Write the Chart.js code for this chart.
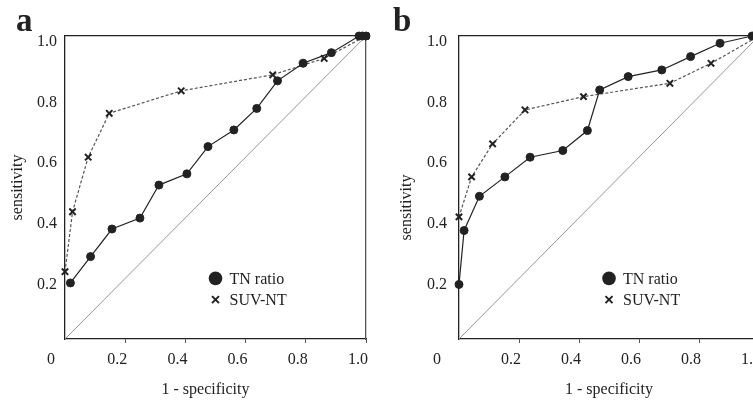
<!DOCTYPE html>
<html lang="en">
<head>
<meta charset="UTF-8">
<title>ROC curves - TN ratio vs SUV-NT</title>
<script src="https://cdn.jsdelivr.net/npm/chart.js@4"></script>
<style>
    html, body { margin: 0; padding: 0; width: 753px; height: 401px; overflow: hidden; background: #fff; }
    #chartA { position: absolute; left: 0; top: 0; }
    #chartB { position: absolute; left: 380px; top: 0; }
</style>
</head>
<body>
<canvas id="chartA" width="380" height="401"></canvas>
<canvas id="chartB" width="400" height="401"></canvas>
<script>
    const xTicks = [0, 0.2, 0.4, 0.6, 0.8, 1.0]
    const yTicks = [0, 0.2, 0.4, 0.6, 0.8, 1.0]
    const seriesNames = ['TN ratio', 'SUV-NT']

    // panel a
    const aTnX = [0.018, 0.085, 0.156, 0.249, 0.312, 0.405, 0.475, 0.561, 0.637, 0.706, 0.791, 0.885, 0.977, 0.988, 1.0]
    const aTnY = [0.185, 0.272, 0.363, 0.399, 0.508, 0.545, 0.635, 0.69, 0.761, 0.852, 0.91, 0.945, 1.0, 1.0, 1.0]
    const aSuvX = [0.0, 0.025, 0.077, 0.147, 0.386, 0.69, 0.861, 1.0]
    const aSuvY = [0.222, 0.42, 0.60, 0.745, 0.819, 0.872, 0.926, 1.0]

    // panel b
    const bTnX = [0.0, 0.017, 0.068, 0.153, 0.237, 0.346, 0.428, 0.469, 0.564, 0.676, 0.772, 0.87, 0.977]
    const bTnY = [0.18, 0.358, 0.471, 0.535, 0.60, 0.622, 0.688, 0.822, 0.866, 0.888, 0.932, 0.976, 1.0]
    const bSuvX = [0.0, 0.042, 0.112, 0.22, 0.415, 0.703, 0.84, 1.0]
    const bSuvY = [0.403, 0.535, 0.644, 0.756, 0.80, 0.844, 0.91, 1.0]

    const serif = '"Liberation Serif", "DejaVu Serif", serif'
    const ink = '#222'

    function toPoints(xs, ys) {
        return xs.map((x, i) => ({ x: x, y: ys[i] }))
    }

    // draws the panel letter and the in-plot legend
    const rocDecor = {
        id: 'rocDecor',
        afterDatasetsDraw(chart, args, opts) {
            const ctx = chart.ctx
            ctx.save()
            ctx.fillStyle = ink
            ctx.font = 'bold 33px ' + serif
            ctx.textBaseline = 'alphabetic'
            ctx.fillText(opts.letter, opts.letterX, 31)

            const lx = chart.scales.x.getPixelForValue(opts.legendX)
            ctx.font = '16px ' + serif
            ctx.textBaseline = 'middle'
            seriesNames.forEach((name, i) => {
                const ly = chart.scales.y.getPixelForValue(opts.legendY[i])
                ctx.fillStyle = ink
                ctx.strokeStyle = ink
                if (i === 0) {
                    ctx.beginPath()
                    ctx.arc(lx, ly, 6.8, 0, Math.PI * 2)
                    ctx.fill()
                } else {
                    ctx.lineWidth = 2
                    ctx.beginPath()
                    ctx.moveTo(lx - 3.5, ly - 3.5)
                    ctx.lineTo(lx + 3.5, ly + 3.5)
                    ctx.moveTo(lx + 3.5, ly - 3.5)
                    ctx.lineTo(lx - 3.5, ly + 3.5)
                    ctx.stroke()
                }
                ctx.fillText(name, lx + 14, ly + 1)
            })
            ctx.restore()
        }
    }

    function buildRoc(id, cfg) {
        const scales = {
            x: {
                type: 'linear',
                position: 'bottom',
                min: 0,
                max: 1,
                afterBuildTicks: s => { s.ticks = xTicks.map(v => ({ value: v })) },
                afterFit: s => {
                    s.height = 62
                    // let the layout padding decide the plot edges
                    s.paddingLeft = 0
                    s.paddingRight = 0
                },
                ticks: {
                    autoSkip: false,
                    maxRotation: 0,
                    labelOffset: -8,
                    padding: 7,
                    color: ink,
                    font: { family: serif, size: 16 },
                    callback: v => v === 0 ? cfg.zeroLabel : v.toFixed(1)
                },
                grid: {
                    drawOnChartArea: false,
                    drawTicks: true,
                    tickLength: 4,
                    color: c => (c.tick && c.tick.value === 0) ? 'rgba(0,0,0,0)' : '#555'
                },
                border: { color: ink, width: 1.3 },
                title: {
                    display: true,
                    text: cfg.xTitle,
                    color: ink,
                    font: { family: serif, size: 16 },
                    padding: { top: 0, bottom: 2 }
                }
            },
            y: {
                type: 'linear',
                position: 'left',
                min: 0,
                max: 1,
                afterBuildTicks: s => { s.ticks = yTicks.map(v => ({ value: v })) },
                afterFit: s => {
                    s.width = cfg.yWidth
                    s.paddingTop = 0
                    s.paddingBottom = 0
                },
                ticks: {
                    padding: cfg.yGap,
                    labelOffset: 6,
                    color: ink,
                    font: { family: serif, size: 16 },
                    callback: v => v === 0 ? '' : v.toFixed(1)
                },
                grid: { display: false, drawTicks: false },
                border: { color: ink, width: 1.3 },
                title: {
                    display: true,
                    text: cfg.yTitle,
                    color: ink,
                    font: { family: serif, size: 16 },
                    padding: { top: cfg.yTitlePad, bottom: 0 }
                }
            },
            xTop: {
                type: 'linear',
                axis: 'x',
                position: 'top',
                min: 0,
                max: 1,
                afterFit: s => { s.height = 0 },
                ticks: { display: false },
                grid: { display: false, drawTicks: false },
                border: { color: ink, width: 1.3 }
            }
        }
        if (cfg.rightBorder) {
            scales.yRight = {
                type: 'linear',
                axis: 'y',
                position: 'right',
                min: 0,
                max: 1,
                afterFit: s => { s.width = 0 },
                ticks: { display: false },
                grid: { display: false, drawTicks: false },
                border: { color: '#555', width: 1.3 }
            }
        }

        return new Chart(document.getElementById(id), {
            type: 'scatter',
            data: {
                datasets: [
                    {
                        label: seriesNames[0],
                        data: toPoints(cfg.tnX, cfg.tnY),
                        showLine: true,
                        borderColor: ink,
                        borderWidth: 1.2,
                        pointStyle: 'circle',
                        pointRadius: 4,
                        pointBackgroundColor: ink,
                        pointBorderColor: ink,
                        pointBorderWidth: 1,
                        clip: false
                    },
                    {
                        label: seriesNames[1],
                        data: toPoints(cfg.suvX, cfg.suvY),
                        showLine: true,
                        borderColor: '#555',
                        borderWidth: 1.2,
                        borderDash: [3, 2],
                        pointStyle: 'crossRot',
                        pointRadius: 4.5,
                        pointBorderColor: ink,
                        pointBorderWidth: 2,
                        clip: false
                    },
                    {
                        label: 'reference',
                        data: [{ x: 0, y: 0 }, { x: 1, y: 1 }],
                        showLine: true,
                        borderColor: '#8a8a8a',
                        borderWidth: 0.9,
                        pointRadius: 0
                    }
                ]
            },
            options: {
                responsive: false,
                animation: false,
                layout: {
                    autoPadding: false,
                    padding: { top: 36, right: cfg.padRight, left: 0, bottom: 0 }
                },
                scales: scales,
                plugins: {
                    legend: { display: false },
                    tooltip: { enabled: false },
                    rocDecor: {
                        letter: cfg.letter,
                        letterX: cfg.letterX,
                        legendX: 0.5,
                        legendY: [0.2, 0.13]
                    }
                }
            },
            plugins: [rocDecor]
        })
    }

    buildRoc('chartA', {
        letter: 'a', letterX: 16,
        tnX: aTnX, tnY: aTnY, suvX: aSuvX, suvY: aSuvY,
        yWidth: 65, yGap: 8, yTitlePad: 8, padRight: 14,
        zeroLabel: '0   ',
        xTitle: '1 - specificity     ',
        yTitle: 'sensitivity',
        rightBorder: true
    })

    buildRoc('chartB', {
        letter: 'b', letterX: 13,
        tnX: bTnX, tnY: bTnY, suvX: bSuvX, suvY: bSuvY,
        yWidth: 79, yGap: 12, yTitlePad: 17, padRight: 21,
        zeroLabel: '0       ',
        xTitle: '1 - specificity',
        yTitle: 'sensitivity          ',
        rightBorder: false
    })
</script>
</body>
</html>
